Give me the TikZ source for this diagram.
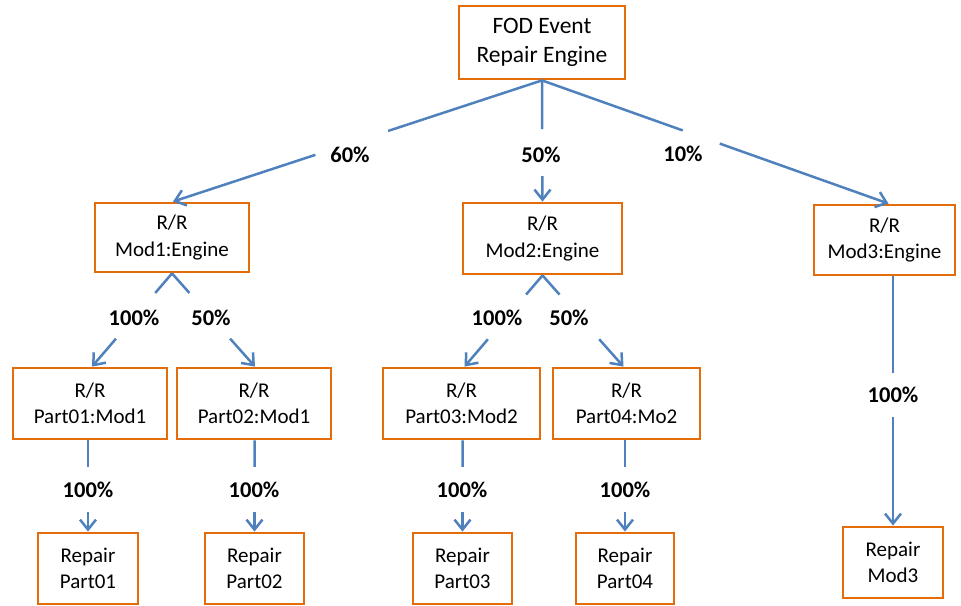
\documentclass[tikz,border=0pt]{standalone}
\usepackage{fontspec}
\setmainfont{Carlito}
\usetikzlibrary{calc,arrows.meta}
\definecolor{boxorange}{RGB}{228,108,10}
\definecolor{lineblue}{RGB}{79,129,189}
\begin{document}
\begin{tikzpicture}[x=1pt,y=-1pt,
  box/.style={draw=boxorange, line width=2.8pt, fill=white, align=center, inner sep=0pt,
              font=\fontsize{21}{26.5}\selectfont},
  lbl/.style={font=\fontsize{22.5}{26}\selectfont\bfseries, inner sep=0pt},
  edge/.style={draw=lineblue, line width=2.5pt},
  arr/.style={-{Straight Barb[length=10pt,width=16pt]}}]
\useasboundingbox (0,0) rectangle (961,605);

% boxes
\node[box, minimum width=166pt, minimum height=73pt, font=\fontsize{23.5}{28.5}\selectfont] (top) at (542,42.5) {FOD Event\\Repair Engine};
\node[box, minimum width=154pt, minimum height=69pt] (m1) at (172,237.5) {R/R\\Mod1:Engine};
\node[box, minimum width=159pt, minimum height=71pt] (m2) at (542.5,238.5) {R/R\\Mod2:Engine};
\node[box, minimum width=141pt, minimum height=70pt] (m3) at (884.5,240) {R/R\\Mod3:Engine};
\node[box, minimum width=154pt, minimum height=71pt] (p1) at (90,403.5) {R/R\\Part01:Mod1};
\node[box, minimum width=154pt, minimum height=71pt] (p2) at (254,403.5) {R/R\\Part02:Mod1};
\node[box, minimum width=157pt, minimum height=71pt] (p3) at (461.5,403.5) {R/R\\Part03:Mod2};
\node[box, minimum width=147pt, minimum height=71pt] (p4) at (626.5,403.5) {R/R\\Part04:Mo2};
\node[box, minimum width=100pt, minimum height=71pt] (r1) at (88,568.5) {Repair\\Part01};
\node[box, minimum width=99pt, minimum height=71pt] (r2) at (254.5,568.5) {Repair\\Part02};
\node[box, minimum width=99pt, minimum height=71pt] (r3) at (462.5,568.5) {Repair\\Part03};
\node[box, minimum width=98pt, minimum height=71pt] (r4) at (625,568.5) {Repair\\Part04};
\node[box, minimum width=100pt, minimum height=71pt] (r5) at (893,562.5) {Repair\\Mod3};

% arrow tip points
\coordinate (t1) at ($(m1.north)+(1,0)$);
\coordinate (t3) at ($(m3.north)+(4,0)$);
\coordinate (q1) at ($(p1.north)+(2,0)$);
\coordinate (q2) at ($(p2.north)+(1,0)$);
\coordinate (q3) at ($(p3.north)+(3,0)$);
\coordinate (q4) at ($(p4.north)+(-3,0)$);

% top level edges
\draw[edge] (top.south) -- ($(top.south)!0.417!(t1)$);
\draw[edge,arr] ($(top.south)!0.614!(t1)$) -- (t1);
\draw[edge] (top.south) -- ($(top.south)!0.403!(m2.north)$);
\draw[edge,arr] ($(top.south)!0.79!(m2.north)$) -- (m2.north);
\draw[edge] (top.south) -- ($(top.south)!0.406!(t3)$);
\draw[edge,arr] ($(top.south)!0.513!(t3)$) -- (t3);

% second level edges
\draw[edge] (m1.south) -- ($(m1.south)!0.21!(q1)$);
\draw[edge,arr] ($(m1.south)!0.70!(q1)$) -- (q1);
\draw[edge] (m1.south) -- ($(m1.south)!0.21!(q2)$);
\draw[edge,arr] ($(m1.south)!0.70!(q2)$) -- (q2);
\draw[edge] (m2.south) -- ($(m2.south)!0.21!(q3)$);
\draw[edge,arr] ($(m2.south)!0.70!(q3)$) -- (q3);
\draw[edge] (m2.south) -- ($(m2.south)!0.21!(q4)$);
\draw[edge,arr] ($(m2.south)!0.70!(q4)$) -- (q4);
\coordinate (s5) at (m3.south -| r5.north);
\draw[edge] (s5) -- ($(s5)!0.387!(r5.north)$);
\draw[edge,arr] ($(s5)!0.565!(r5.north)$) -- (r5.north);

% third level edges
\coordinate (s1) at (p1.south -| r1.north);
\draw[edge] (s1) -- ($(s1)!0.29!(r1.north)$);
\draw[edge,arr] ($(s1)!0.78!(r1.north)$) -- (r1.north);
\coordinate (s2) at (p2.south -| r2.north);
\draw[edge] (s2) -- ($(s2)!0.29!(r2.north)$);
\draw[edge,arr] ($(s2)!0.78!(r2.north)$) -- (r2.north);
\coordinate (s3) at (p3.south -| r3.north);
\draw[edge] (s3) -- ($(s3)!0.29!(r3.north)$);
\draw[edge,arr] ($(s3)!0.78!(r3.north)$) -- (r3.north);
\coordinate (s4) at (p4.south -| r4.north);
\draw[edge] (s4) -- ($(s4)!0.29!(r4.north)$);
\draw[edge,arr] ($(s4)!0.78!(r4.north)$) -- (r4.north);

% labels
\node[lbl] (l60) at (350,155) {60\%};
\node[lbl] (l50) at (541,155) {50\%};
\node[lbl] (l10) at (683,154) {10\%};
\node[lbl] (la) at (134,318) {100\%};
\node[lbl] (lb) at (211,318) {50\%};
\node[lbl] (lc) at (497,318) {100\%};
\node[lbl] (ld) at (569,318) {50\%};
\node[lbl] (le) at (88,490) {100\%};
\node[lbl] (lf) at (254,490) {100\%};
\node[lbl] (lg) at (462,490) {100\%};
\node[lbl] (lh) at (625,490) {100\%};
\node[lbl] (li) at (893,395) {100\%};
\end{tikzpicture}
\end{document}
